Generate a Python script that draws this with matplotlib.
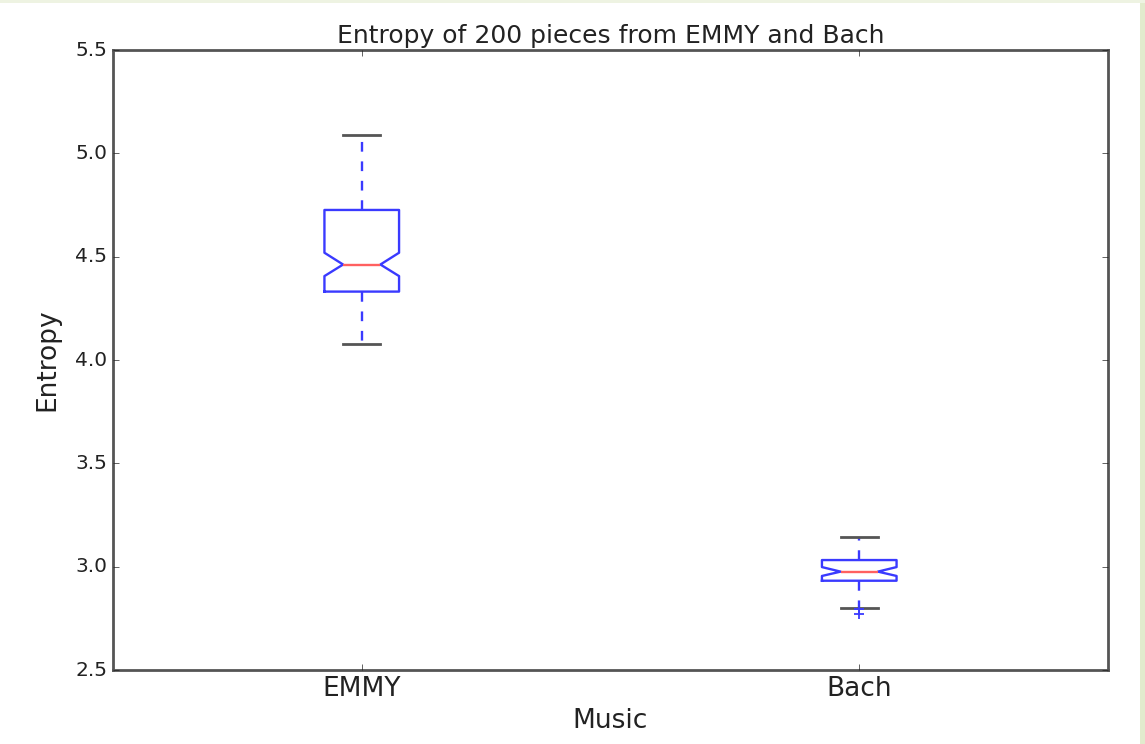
import matplotlib
matplotlib.use("Agg")
import matplotlib.pyplot as plt
from matplotlib.patches import Rectangle

plt.style.use("classic")

# box statistics
labels = ["EMMY", "Bach"]
whislo = [4.075, 2.802]
q1 = [4.331, 2.932]
med = [4.462, 2.976]
q3 = [4.726, 3.032]
whishi = [5.090, 3.145]
cilo = [4.406, 2.955]
cihi = [4.519, 2.998]
fliers = [[], [2.797, 2.772]]

stats = []
for i in range(len(labels)):
    stats.append({
        "label": labels[i], "whislo": whislo[i], "q1": q1[i], "med": med[i],
        "q3": q3[i], "whishi": whishi[i], "cilo": cilo[i], "cihi": cihi[i],
        "fliers": fliers[i],
    })

fig = plt.figure(figsize=(11.45, 7.44), dpi=100, facecolor="white")
ax = fig.add_axes([113 / 1145, 74 / 744, 995 / 1145, 620 / 744])

ax.bxp(stats, shownotches=True,
       boxprops=dict(color="#3a3aff", linewidth=1.7),
       whiskerprops=dict(color="#3a3aff", linewidth=1.7, linestyle=(0, (7, 7))),
       capprops=dict(color="#555555", linewidth=2.0),
       medianprops=dict(color="#ff6060", linewidth=1.7),
       flierprops=dict(marker="+", markeredgecolor="#3a3aff", markersize=7,
                       markeredgewidth=1.3))

ax.set_ylim(2.5, 5.5)
ax.set_xlim(0.5, 2.5)
ax.set_yticks([2.5, 3.0, 3.5, 4.0, 4.5, 5.0, 5.5])
ax.tick_params(axis="y", labelsize=14.5, colors="#222222")
ax.tick_params(axis="x", labelsize=19, colors="#222222")
for sp in ax.spines.values():
    sp.set_color("#555555")
    sp.set_linewidth(2.0)

ax.set_title("Entropy of 200 pieces from EMMY and Bach", fontsize=18, color="#222222")
ax.set_xlabel("Music", fontsize=19, color="#222222")
ax.set_ylabel("Entropy", fontsize=19, color="#222222", labelpad=11)

# pale green frame strip on the right edge
fig.patches.append(Rectangle((1140 / 1145, 0), 5 / 1145, 1, transform=fig.transFigure,
                             facecolor="#e2ebcd", edgecolor="none"))
fig.patches.append(Rectangle((0, 741 / 744), 1, 3 / 744, transform=fig.transFigure,
                             facecolor="#eef3e2", edgecolor="none"))

fig.savefig("out.png", dpi=100, facecolor="white")
